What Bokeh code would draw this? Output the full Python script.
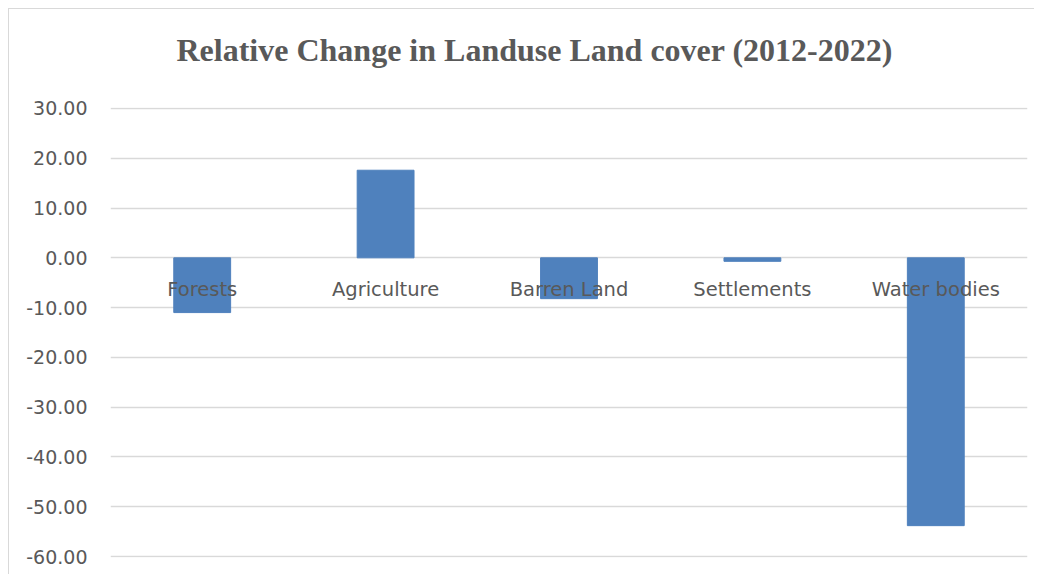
from bokeh.plotting import figure
from bokeh.models import Range1d, FixedTicker, CustomJSTickFormatter, Title
from bokeh.embed import file_html
from bokeh.resources import INLINE

categories = ["Forests", "Agriculture", "Barren Land", "Settlements", "Water bodies"]
values = [-11.0, 17.6, -8.2, -0.7, -53.8]
y_ticks = [-60, -50, -40, -30, -20, -10, 0, 10, 20, 30]
title_text = "Relative Change in Landuse Land cover (2012-2022)"

p = figure(x_range=categories, y_range=Range1d(-60.2, 30.2), width=1026, height=566,
           output_backend="svg", toolbar_location=None,
           min_border_left=101, min_border_right=8, min_border_top=98, min_border_bottom=18)
p.styles = {"margin-left": "8px", "margin-top": "8px",
            "border-left": "1px solid #d9d9d9", "border-top": "1px solid #d9d9d9"}

# spacer between frame and title (nearest to the frame)
p.add_layout(Title(text=" ", text_font_size="2px", standoff=14, text_color="white"), "above")
p.add_layout(Title(text=title_text, align="left", vertical_align="top",
                   text_font="Liberation Serif", text_font_style="bold", text_font_size="32px",
                   text_color="#595959", offset=66, standoff=40), "above")

p.vbar(x=categories, top=values, width=0.31, color="#4f81bd")

p.outline_line_color = None
p.xgrid.grid_line_color = None
p.ygrid.grid_line_color = "#d9d9d9"
p.ygrid.grid_line_width = 1.3

p.yaxis.ticker = FixedTicker(ticks=y_ticks)
p.yaxis.formatter = CustomJSTickFormatter(code="return tick.toFixed(2);")
p.yaxis.axis_line_color = None
p.yaxis.major_tick_line_color = None
p.yaxis.minor_tick_line_color = None
p.yaxis.major_label_text_font = "DejaVu Sans"
p.yaxis.major_label_text_font_size = "19px"
p.yaxis.major_label_text_color = "#595959"
p.yaxis.major_label_standoff = 17

xa = p.xaxis[0]
xa.fixed_location = 0
xa.axis_line_color = None
xa.major_tick_line_color = None
xa.minor_tick_line_color = None
xa.major_label_text_font = "DejaVu Sans"
xa.major_label_text_font_size = "19.5px"
xa.major_label_text_color = "#595959"
xa.major_label_standoff = 14

open("out.html", "w").write(file_html(p, INLINE))
